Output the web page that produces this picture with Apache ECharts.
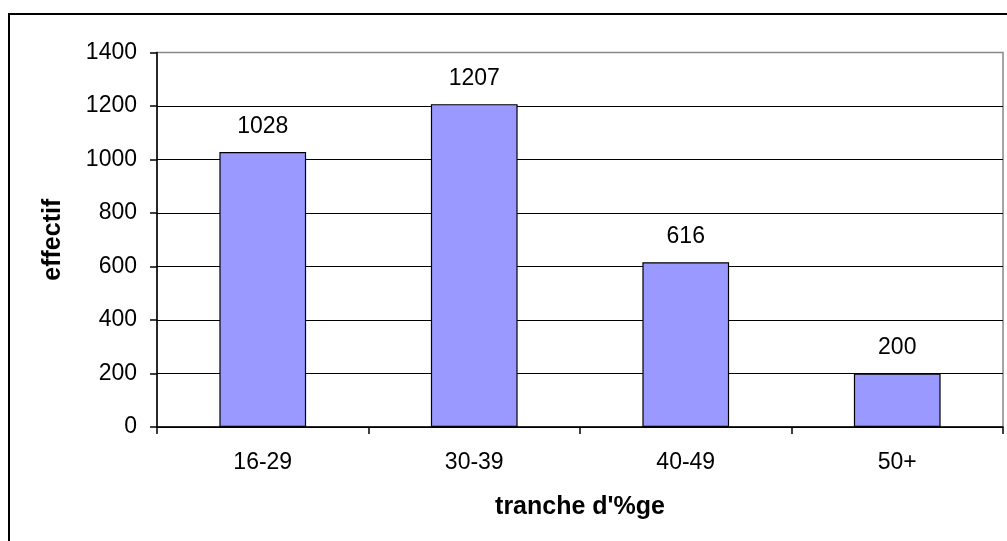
<!DOCTYPE html>
<html>
<head>
<meta charset="utf-8">
<script src="https://cdn.jsdelivr.net/npm/echarts@6/dist/echarts.min.js"></script>
<style>
  html, body { margin: 0; padding: 0; background: #fff; }
  #chart { width: 1007px; height: 541px; }
</style>
</head>
<body>
<div id="chart"></div>
<script>
// tranches d'âge et effectifs
const categories = ['16-29', '30-39', '40-49', '50+']
const effectifs = [1028, 1207, 616, 200]
const yTicks = [0, 200, 400, 600, 800, 1000, 1200, 1400]

const chart = echarts.init(document.getElementById('chart'))
chart.setOption({
  animation: false,
  backgroundColor: '#fff',
  textStyle: { fontFamily: 'Liberation Sans, Arial, sans-serif' },
  graphic: [{
    // cadre extérieur
    type: 'rect',
    shape: { x: 9, y: 14, width: 1010, height: 540 },
    style: { fill: 'none', stroke: '#000', lineWidth: 2 },
    z: 100
  }],
  grid: {
    left: 157, top: 52.5, right: 4, bottom: 114,
    show: true, borderColor: '#888', borderWidth: 1.5
  },
  xAxis: {
    type: 'category',
    data: categories,
    name: "tranche d'%ge",
    nameLocation: 'middle',
    nameGap: 68,
    nameTextStyle: { fontSize: 25, fontWeight: 'bold', color: '#000' },
    axisLine: { lineStyle: { color: '#000', width: 1.5 } },
    axisTick: { show: true, length: 7, lineStyle: { color: '#000', width: 1.5 } },
    axisLabel: { fontSize: 23, color: '#000', margin: 24 }
  },
  yAxis: {
    type: 'value',
    min: yTicks[0],
    max: yTicks[yTicks.length - 1],
    interval: 200,
    name: 'effectif',
    nameLocation: 'middle',
    nameGap: 91,
    nameTextStyle: { fontSize: 25, fontWeight: 'bold', color: '#000' },
    axisLine: { show: true, lineStyle: { color: '#000', width: 1.5 } },
    axisTick: { show: true, length: 7, lineStyle: { color: '#000', width: 1.5 } },
    axisLabel: { fontSize: 23, color: '#000', margin: 20, formatter: v => String(v) },
    splitLine: { show: true, showMaxLine: false, lineStyle: { color: '#000', width: 1.2 } }
  },
  series: [{
    type: 'bar',
    data: effectifs,
    barWidth: '41%',
    itemStyle: { color: '#9999FF', borderColor: '#000', borderWidth: 1.2 },
    label: {
      show: true,
      position: 'top',
      distance: 14,
      fontSize: 23,
      color: '#000'
    }
  }]
})
</script>
</body>
</html>
